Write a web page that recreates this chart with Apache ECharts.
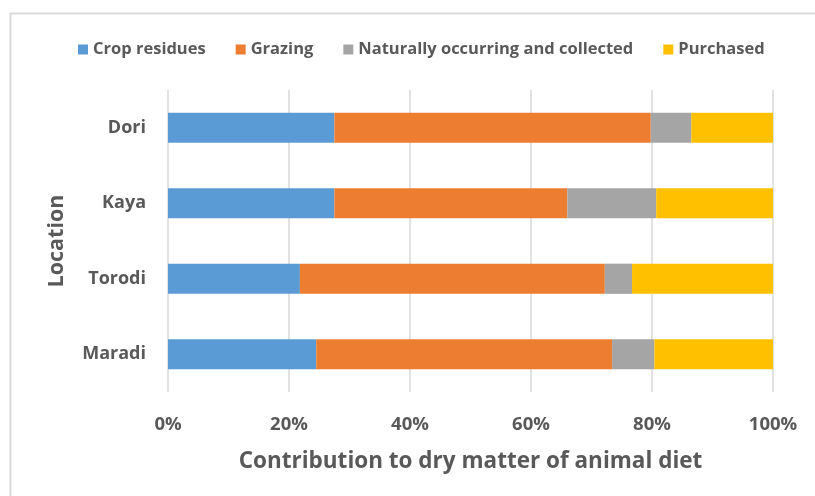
<!DOCTYPE html>
<html>
<head>
<meta charset="utf-8">
<script src="https://cdn.jsdelivr.net/npm/echarts@6/dist/echarts.min.js"></script>
<style>
  html, body { margin: 0; padding: 0; background: #fff; }
  #chart { width: 815px; height: 496px; }
</style>
</head>
<body>
<div id="chart"></div>
<script>
// Locations, top to bottom
const locations = ['Dori', 'Kaya', 'Torodi', 'Maradi'];

// Share (%) of dry matter in animal diet by feed source
const cropResidues = [27.5, 27.5, 21.8, 24.5];
const grazing      = [52.3, 38.5, 50.4, 48.9];
const naturallyOccurring = [6.7, 14.7, 4.5, 7.0];
const purchased    = [13.5, 19.3, 23.3, 19.6];

const seriesNames = ['Crop residues', 'Grazing', 'Naturally occurring and collected', 'Purchased'];
const seriesColors = ['#5B9BD5', '#ED7D31', '#A5A5A5', '#FFC000'];
const seriesData = [cropResidues, grazing, naturallyOccurring, purchased];

const FONT = '"Open Sans", "Noto Sans", sans-serif';
const TEXT = '#595959';

const chart = echarts.init(document.getElementById('chart'), null, { renderer: 'canvas' });

chart.setOption({
  animation: false,
  textStyle: { fontFamily: FONT },
  // chart frame: top and left edges
  graphic: [
    { type: 'line', shape: { x1: 10, y1: 13.5, x2: 815, y2: 13.5 }, style: { stroke: '#d9d9d9', lineWidth: 2 }, silent: true },
    { type: 'line', shape: { x1: 10.5, y1: 13, x2: 10.5, y2: 496 }, style: { stroke: '#d9d9d9', lineWidth: 2 }, silent: true }
  ],
  legend: {
    top: 36,
    left: 73,
    itemWidth: 10,
    itemHeight: 10,
    itemGap: 30,
    icon: 'rect',
    textStyle: { color: TEXT, fontSize: 16.5, fontWeight: 'bold', fontFamily: FONT },
    data: seriesNames
  },
  grid: { left: 168, right: 42, top: 90, bottom: 104, containLabel: false },
  xAxis: {
    type: 'value',
    min: 0,
    max: 100,
    interval: 20,
    name: 'Contribution to dry matter of animal diet',
    nameLocation: 'middle',
    nameGap: 58,
    nameTextStyle: { color: TEXT, fontSize: 22.5, fontWeight: 'bold', fontFamily: FONT },
    axisLine: { show: false },
    axisTick: { show: false },
    axisLabel: { formatter: '{value}%', color: TEXT, fontSize: 18.5, fontWeight: 'bold', margin: 23, fontFamily: FONT },
    splitLine: { show: true, lineStyle: { color: '#d9d9d9', width: 1.5 } }
  },
  yAxis: {
    type: 'category',
    inverse: true,
    data: locations,
    name: 'Location',
    nameLocation: 'middle',
    nameGap: 100,
    nameRotate: 90,
    nameTextStyle: { color: TEXT, fontSize: 21.5, fontWeight: 'bold', fontFamily: FONT },
    axisLine: { show: false },
    axisTick: { show: false },
    axisLabel: { color: TEXT, fontSize: 18, fontWeight: 'bold', margin: 22, fontFamily: FONT }
  },
  series: seriesNames.map((name, i) => ({
    name: name,
    type: 'bar',
    stack: 'total',
    barCategoryGap: '60%',
    itemStyle: { color: seriesColors[i] },
    data: seriesData[i]
  }))
});
</script>
</body>
</html>
